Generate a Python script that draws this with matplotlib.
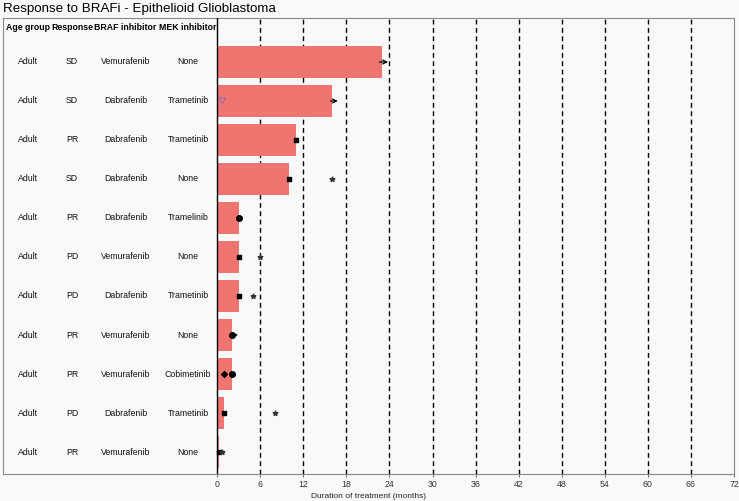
import matplotlib
matplotlib.use("Agg")
import matplotlib.pyplot as plt

plt.rcParams['font.family'] = ['Liberation Sans', 'DejaVu Sans']

# table columns
headers = ["Age group", "Response", "BRAF inhibitor", "MEK inhibitor"]
age = ["Adult"] * 11
response = ["SD", "SD", "PR", "SD", "PR", "PD", "PD", "PR", "PR", "PD", "PR"]
braf = ["Vemurafenib", "Dabrafenib", "Dabrafenib", "Dabrafenib", "Dabrafenib",
        "Vemurafenib", "Dabrafenib", "Vemurafenib", "Vemurafenib", "Dabrafenib",
        "Vemurafenib"]
mek = ["None", "Trametinib", "Trametinib", "None", "Tramelinib", "None",
       "Trametinib", "None", "Cobimetinib", "Trametinib", "None"]

# duration of treatment (months)
duration = [23, 16, 11, 10, 3, 3, 3, 2, 2, 1, 0.3]

# event markers: (row, months)
squares = [(2, 11), (3, 10), (5, 3), (6, 3), (9, 1), (10, 0.3)]
circles = [(4, 3.05), (7, 2.0), (8, 2.1)]
diamonds = [(8, 1.0)]
stars = [(3, 16), (5, 6), (6, 5), (9, 8), (10, 0.6)]
triangles = [(1, 0.7)]
arrows = [(0, 22.6, 23.8), (1, 15.8, 16.8), (7, 2.0, 2.9)]

xticks = list(range(0, 73, 6))

fig = plt.figure(figsize=(7.39, 5.01), dpi=100, facecolor="#f9f9f9")
ax = fig.add_axes([3 / 739, 27 / 501, 731 / 739, 456 / 501])
ax.set_facecolor("#f9f9f9")

xmin = -29.85
ax.set_xlim(xmin, 72)
ax.set_ylim(10.564, -1.128)

rows = list(range(len(duration)))
ax.barh(rows, duration, height=0.8, color="#F07470", zorder=2)

for x in xticks[1:-1]:
    ax.axvline(x, color="black", linestyle=(0, (3.5, 2.5)), linewidth=1.0, zorder=1)
ax.axvline(0, color="black", linewidth=1.0, zorder=3)

ax.scatter([m for r, m in squares], [r for r, m in squares], marker="s", s=12,
           color="black", zorder=4)
ax.scatter([m for r, m in circles], [r for r, m in circles], marker="o", s=16,
           color="black", zorder=4)
ax.scatter([m for r, m in diamonds], [r for r, m in diamonds], marker="D", s=9,
           color="black", zorder=4)
ax.scatter([m for r, m in stars], [r for r, m in stars], marker="*", s=12,
           color="#333333", zorder=4)
ax.scatter([m for r, m in triangles], [r for r, m in triangles], marker="v", s=20,
           facecolor="none", edgecolor="#9b6fb5", linewidth=0.8, zorder=4)
for r, x0, x1 in arrows:
    ax.annotate("", xy=(x1, r), xytext=(x0, r),
                arrowprops=dict(arrowstyle="->", color="black", lw=0.9,
                                mutation_scale=7, shrinkA=0, shrinkB=0),
                zorder=5)

# table text
col_x = [-26.4, -20.25, -12.8, -4.05]
for cx, h in zip(col_x, headers):
    ax.text(cx, -0.872, h, ha="center", va="center", fontsize=6.3,
            fontweight="bold")
for cx, col in zip(col_x, [age, response, braf, mek]):
    for r, val in enumerate(col):
        ax.text(cx, r, val, ha="center", va="center", fontsize=6.3,
                color="#111111")

ax.set_yticks([])
ax.set_xticks(xticks)
ax.tick_params(axis="x", length=2, color="#777777", labelsize=6.3,
               labelcolor="#333333", pad=2)
for s in ax.spines.values():
    s.set_color("#888888")
    s.set_linewidth(0.8)
ax.set_xlabel("Duration of treatment (months)", fontsize=6, color="#222222",
              labelpad=3)

fig.text(3 / 739, 1 - 9 / 501, "Response to BRAFi - Epithelioid Glioblastoma",
         fontsize=9.6, ha="left", va="center")

fig.savefig("out.png", dpi=100, facecolor=fig.get_facecolor())
